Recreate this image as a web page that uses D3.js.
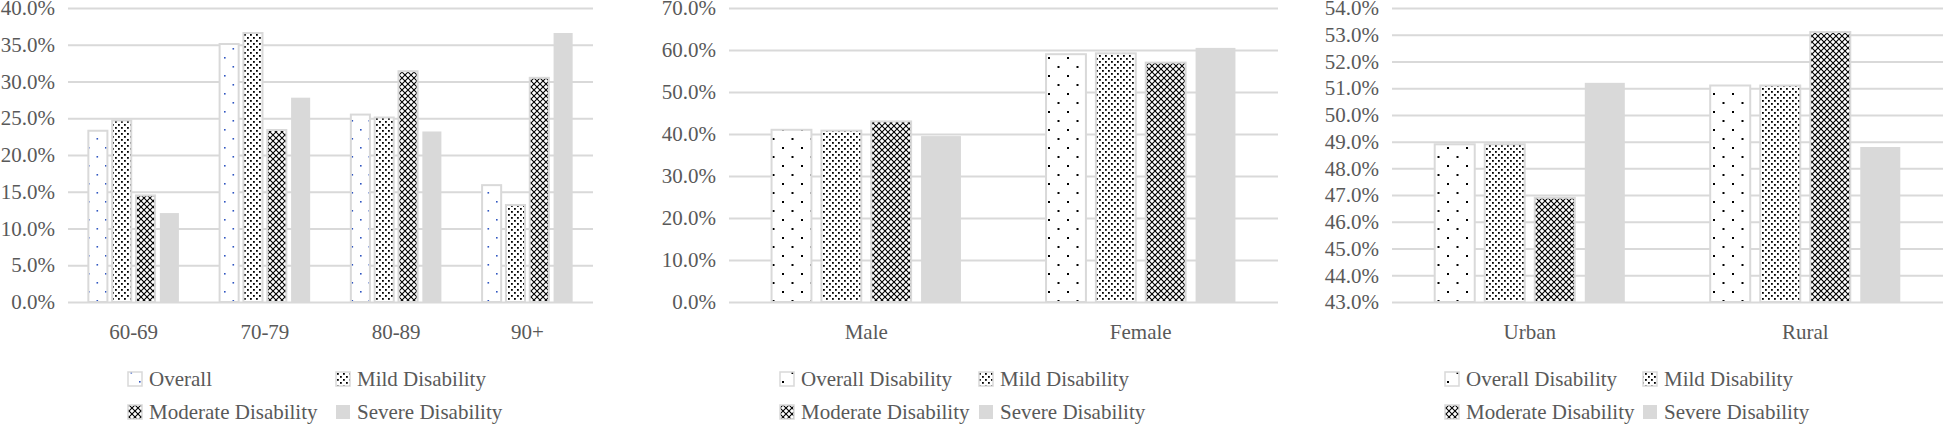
<!DOCTYPE html>
<html>
<head>
<meta charset="utf-8">
<script src="https://cdn.jsdelivr.net/npm/d3@7"></script>
<style>
  body { margin: 0; background: #fff; }
  svg text { font-family: "Liberation Serif", "Times New Roman", serif; fill: #595959; }
</style>
</head>
<body>
<div id="chart"></div>
<script>
// data (percent)
const series = ['Overall', 'Mild Disability', 'Moderate Disability', 'Severe Disability'];

const ageGroups = ['60-69', '70-79', '80-89', '90+'];
const ageOverall = [23.3, 35.1, 25.5, 15.9];
const ageMild = [24.7, 36.6, 25.1, 13.2];
const ageModerate = [14.5, 23.4, 31.4, 30.5];
const ageSevere = [12.1, 27.8, 23.2, 36.6];
const ageTicks = [0, 5, 10, 15, 20, 25, 30, 35, 40];

const sexGroups = ['Male', 'Female'];
const sexOverall = [41.0, 59.0];
const sexMild = [40.8, 59.2];
const sexModerate = [43.0, 57.0];
const sexSevere = [39.5, 60.5];
const sexTicks = [0, 10, 20, 30, 40, 50, 60, 70];

const areaGroups = ['Urban', 'Rural'];
const areaOverall = [48.9, 51.1];
const areaMild = [48.9, 51.1];
const areaModerate = [46.9, 53.1];
const areaSevere = [51.2, 48.8];
const areaTicks = [43, 44, 45, 46, 47, 48, 49, 50, 51, 52, 53, 54];

const legend1 = ['Overall', 'Mild Disability', 'Moderate Disability', 'Severe Disability'];
const legend23 = ['Overall Disability', 'Mild Disability', 'Moderate Disability', 'Severe Disability'];

//size of the picture
const width = 1944;
const height = 425;
const plotTop = 8;
const plotBottom = 302;
const fontSize = '21px';

const svg = d3.select('#chart')
  .append('svg')
  .attr('width', width)
  .attr('height', height);

// fill patterns, like the excel ones
const defs = svg.append('defs');

function dotPattern(id, size, dots, r, color) {
  const p = defs.append('pattern')
    .attr('id', id)
    .attr('patternUnits', 'userSpaceOnUse')
    .attr('width', size[0])
    .attr('height', size[1]);
  p.append('rect').attr('width', size[0]).attr('height', size[1]).attr('fill', '#fff');
  dots.forEach(d => {
    p.append('rect')
      .attr('x', d[0]).attr('y', d[1])
      .attr('width', r).attr('height', r)
      .attr('fill', color);
  });
}
dotPattern('overallBlue', [17, 18], [[3, 3], [11.5, 12]], 1.6, '#2f55c0');
dotPattern('overallBlack', [19, 18], [[3, 3], [12.5, 12]], 2, '#000');
dotPattern('mild', [6, 6], [[1, 1], [4, 4]], 1.8, '#000');

const mod = defs.append('pattern')
  .attr('id', 'moderate')
  .attr('patternUnits', 'userSpaceOnUse')
  .attr('width', 6)
  .attr('height', 6);
mod.append('rect').attr('width', 6).attr('height', 6).attr('fill', '#fff');
mod.append('path')
  .attr('d', 'M0,0L6,6M6,0L0,6')
  .attr('stroke', '#000')
  .attr('stroke-width', 1.1);

const panels = [
  {
    groups: ageGroups, values: [ageOverall, ageMild, ageModerate, ageSevere],
    ticks: ageTicks, left: 68, right: 593, overallFill: 'url(#overallBlue)',
    legend: legend1, legendX: 128, legendCol: 208
  },
  {
    groups: sexGroups, values: [sexOverall, sexMild, sexModerate, sexSevere],
    ticks: sexTicks, left: 729, right: 1278, overallFill: 'url(#overallBlack)',
    legend: legend23, legendX: 780, legendCol: 199
  },
  {
    groups: areaGroups, values: [areaOverall, areaMild, areaModerate, areaSevere],
    ticks: areaTicks, left: 1392, right: 1943, overallFill: 'url(#overallBlack)',
    legend: legend23, legendX: 1445, legendCol: 198
  }
];

panels.forEach(p => {
  const fills = [p.overallFill, 'url(#mild)', 'url(#moderate)', '#d9d9d9'];
  const strokes = ['#d9d9d9', '#d9d9d9', '#d9d9d9', 'none'];

  const x = d3.scaleBand()
    .domain(p.groups)
    .range([p.left, p.right])
    .paddingInner(0.31)
    .paddingOuter(0.155);

  const xs = d3.scaleBand()
    .domain(d3.range(series.length))
    .range([0, x.bandwidth()])
    .paddingInner(0.2);

  const y = d3.scaleLinear()
    .domain([p.ticks[0], p.ticks[p.ticks.length - 1]])
    .range([plotBottom, plotTop]);

  // y axis with the gridlines
  const yAxis = svg.append('g')
    .attr('transform', `translate(${p.left},0)`)
    .call(d3.axisLeft(y)
      .tickValues(p.ticks)
      .tickSizeInner(-(p.right - p.left))
      .tickSizeOuter(0)
      .tickPadding(13)
      .tickFormat(d => d.toFixed(1) + '%'));
  yAxis.select('.domain').remove();
  yAxis.selectAll('line').attr('stroke', '#d9d9d9').attr('stroke-width', 2);
  yAxis.selectAll('text').attr('font-size', fontSize).attr('fill', '#595959');

  // bars
  const rows = [];
  p.groups.forEach((g, gi) => {
    p.values.forEach((vals, si) => rows.push({ group: g, s: si, v: vals[gi] }));
  });

  svg.append('g')
    .selectAll('rect')
    .data(rows)
    .join('rect')
    .attr('x', d => x(d.group) + xs(d.s))
    .attr('y', d => y(d.v))
    .attr('width', xs.bandwidth())
    .attr('height', d => y(p.ticks[0]) - y(d.v))
    .attr('fill', d => fills[d.s])
    .attr('stroke', d => strokes[d.s])
    .attr('stroke-width', 2);

  // category axis
  const xAxis = svg.append('g')
    .attr('transform', `translate(0,${plotBottom})`)
    .call(d3.axisBottom(x).tickSize(0).tickPadding(22));
  xAxis.select('.domain').remove();
  xAxis.selectAll('text').attr('font-size', fontSize).attr('fill', '#595959');

  // legend, two rows of two
  const leg = svg.append('g');
  p.legend.forEach((name, i) => {
    const lx = p.legendX + (i % 2) * p.legendCol;
    const ly = 372 + Math.floor(i / 2) * 33;
    leg.append('rect')
      .attr('x', lx).attr('y', ly)
      .attr('width', 14).attr('height', 14)
      .attr('fill', fills[i])
      .attr('stroke', strokes[i])
      .attr('stroke-width', 1.5);
    leg.append('text')
      .attr('x', lx + 21)
      .attr('y', ly + 14)
      .attr('font-size', fontSize)
      .text(name);
  });
});
</script>
</body>
</html>
